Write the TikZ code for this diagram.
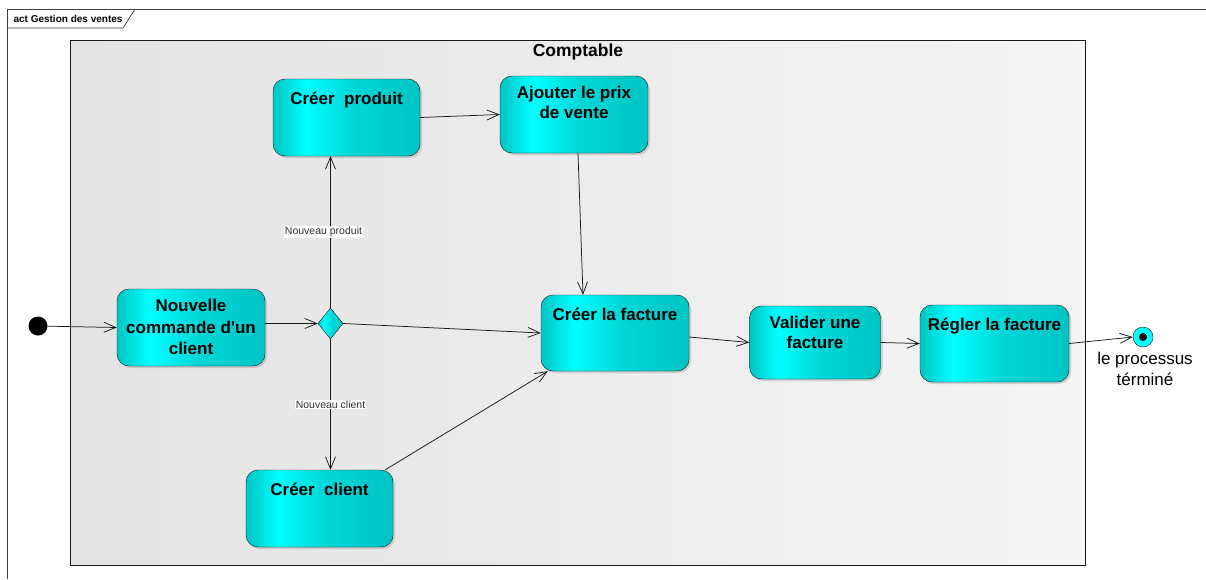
\documentclass[tikz,border=0pt]{standalone}
\usepackage{fontspec}
\setmainfont{Liberation Sans}
\usetikzlibrary{arrows.meta,shapes.geometric,shadows}

\definecolor{actdark}{RGB}{0,196,196}
\definecolor{actmid}{RGB}{0,215,215}
\definecolor{actlight}{RGB}{0,255,255}
\pgfdeclarehorizontalshading{actshade}{100bp}{color(0bp)=(actdark); color(25bp)=(actdark);
  color(36bp)=(actlight); color(52bp)=(actmid); color(75bp)=(actdark); color(100bp)=(actdark)}

\begin{document}
\begin{tikzpicture}[x=1pt,y=-1pt]
\tikzstyle{act}=[draw=black!90, rounded corners=12pt, inner sep=0pt, shading=actshade,
  drop shadow={shadow xshift=2pt,shadow yshift=-2pt,opacity=0.3}]
\tikzstyle{acttext}=[font=\fontsize{17}{20.5}\selectfont\bfseries, align=center,
  inner sep=0pt, anchor=north, yshift=-10pt, execute at begin node=\vphantom{É}]
\tikzstyle{flow}=[draw=black!90, line width=0.75pt, -{Straight Barb[length=12pt,width=10pt]}]
\tikzstyle{guard}=[font=\fontsize{10.5}{12}\selectfont, text=black!80, fill=white, inner sep=1pt]
\useasboundingbox (0,0) rectangle (1206,579);
\fill [white] (0,0) rectangle (1206,579);
\draw [black!75, line width=0.75pt] (7,579) -- (7,9) -- (1206,9);
\draw [black!75, line width=0.75pt] (7,28) -- (123,28) -- (135,9);
\node [font=\fontsize{10}{11}\selectfont\bfseries, anchor=west] (frame) at (10,19) {act Gestion des ventes};
\shade [left color=black!11, right color=black!4] (70,40) rectangle (1085,565);
\draw [black!90, line width=0.8pt] (70,40) rectangle (1085,565);
\node [font=\fontsize{17.5}{20}\selectfont\bfseries] (lane) at (578,52) {Comptable};
\node [circle, fill=black, minimum size=19pt, inner sep=0pt] (init) at (38,326) {};
\node [act, minimum width=148pt, minimum height=77pt] (nc) at (191,327.5) {};
\node [font=\fontsize{17}{21.5}\selectfont\bfseries, align=center] (nctext) at (191,327) {Nouvelle\\commande d\textquotesingle un\\client};
\node [diamond, draw=black!90, inner sep=0pt, minimum width=25pt, minimum height=31pt,
  shading=actshade] (dec) at (330.5,323.5) {};
\node [act, minimum width=147pt, minimum height=77pt] (cp) at (346.5,117.5) {};
\node [acttext] (cptext) at (cp.north) {Créer~ produit};
\node [act, minimum width=148pt, minimum height=77pt] (ap) at (574,114.5) {};
\node [acttext] (aptext) at (ap.north) {Ajouter le prix\\de vente};
\node [act, minimum width=148pt, minimum height=76pt] (cf) at (615,333) {};
\node [acttext] (cftext) at (cf.north) {Créer la facture};
\node [act, minimum width=131pt, minimum height=73pt] (vf) at (815,342.5) {};
\node [acttext] (vftext) at (vf.north) {Valider une\\facture};
\node [act, minimum width=149pt, minimum height=77pt] (rf) at (994.5,343.5) {};
\node [acttext] (rftext) at (rf.north) {Régler la facture};
\node [act, minimum width=147pt, minimum height=77pt] (cc) at (319.5,508.5) {};
\node [acttext] (cctext) at (cc.north) {Créer~ client};
\node [circle, draw=black!90, fill=actlight, minimum size=20pt, inner sep=0pt] (final) at (1143,337) {};
\fill [black] (final) circle (4);
\node [font=\fontsize{17}{21}\selectfont, align=center, anchor=north] (finaltext) at (1145,349) {le processus\\términé};
\draw [flow] (init) -- (nc.west);
\draw [flow] (nc.east |- dec) -- (dec.west);
\draw [flow] (dec.east) -- (cf.west);
\draw [flow] (dec.north) -- (dec.north |- cp.south) node [guard, midway, xshift=-7pt] (np) {Nouveau produit};
\draw [flow] (dec.south) -- (dec.south |- cc.north) node [guard, midway] (ncl) {Nouveau client};
\draw [flow] (cp.east) -- (ap.west);
\draw [flow] ([xshift=4pt]ap.south) -- ([xshift=-32pt]cf.north);
\draw [flow] ([xshift=-8pt]cc.north east) -- ([xshift=7pt]cf.south west);
\draw [flow] ([yshift=-4pt]cf.east) -- (vf.west);
\draw [flow] (vf.east) -- (rf.west);
\draw [flow] (rf.east) -- (final.west);
\end{tikzpicture}
\end{document}
